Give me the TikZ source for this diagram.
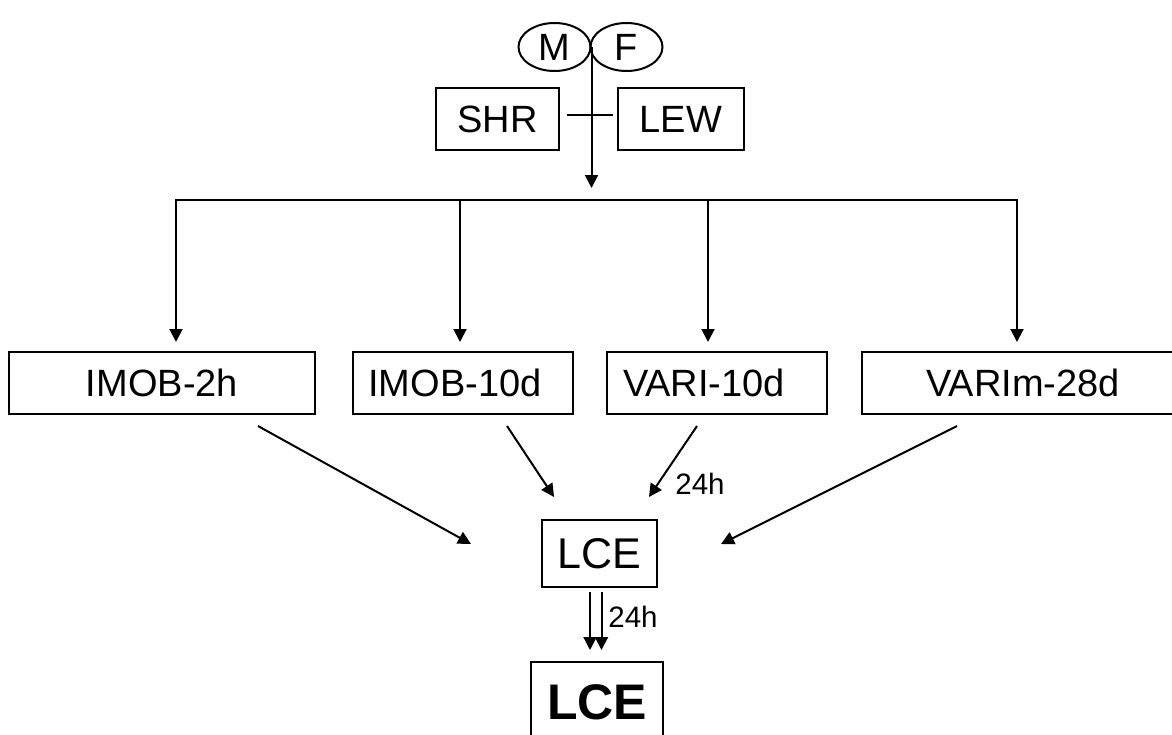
\documentclass[tikz,border=0pt]{standalone}
\usepackage{fontspec}
\setmainfont{Liberation Sans}
\usetikzlibrary{arrows.meta,positioning,shapes.geometric}

\begin{document}
\begin{tikzpicture}[x=1pt, y=-1pt, node distance=36pt,
  box/.style={draw, line width=2pt, inner sep=0pt, minimum height=62pt, font=\fontsize{38}{44}\selectfont},
  oval/.style={draw, ellipse, line width=2pt, inner sep=0pt, minimum width=72pt, minimum height=48pt, font=\fontsize{38}{44}\selectfont},
  arrow/.style={-{Triangle[length=13pt,width=13pt]}, line width=2pt},
  link/.style={line width=2pt, line cap=rect},
  hours/.style={font=\fontsize{29.5}{34}\selectfont, inner sep=0pt}]
\useasboundingbox (0,0) rectangle (1172,734);

\node[oval] (m) at (554.5,47) {M};
\node[oval] (f) at (626.5,47) {F};

\node[box, minimum width=123pt] (shr) at (497.5,119) {SHR};
\node[box, minimum width=126pt, right=57pt of shr] (lew) {LEW};

\node[box, minimum width=306pt] (imob2h) at (162,383) {IMOB-2h};
\node[box, minimum width=220pt] (imob10d) at (463,383) {IMOB-10d\kern16pt};
\node[box, minimum width=220pt] (vari10d) at (717,383) {VARI-10d\kern26pt};
\node[box, minimum width=340pt] (varim28d) at (1032,383) {VARIm-28d\kern18pt};

\node[box, minimum width=115pt, minimum height=67pt, font=\fontsize{43}{50}\selectfont] (lce) at (599.5,553.5) {LCE};
\node[box, minimum width=132pt, minimum height=80pt, font=\bfseries\fontsize{50}{58}\selectfont] (lcefinal) at (597,702) {LCE};

% stem and bus
\coordinate (split) at (590,188);
\coordinate (d1) at (176,200);
\coordinate (d2) at (460,200);
\coordinate (d3) at (708,200);
\coordinate (d4) at (1017,200);

\draw[arrow] (m.east) -- (m.east |- split);
\draw[link, line cap=butt, shorten <=7pt, shorten >=4pt] ([yshift=4pt]shr.east) -- ([yshift=4pt]lew.west);

\draw[link] (d1) -- (d4);
\foreach \d/\b in {d1/imob2h, d2/imob10d, d3/vari10d, d4/varim28d}
  \draw[arrow, shorten >=9pt] (\d) -- (\d |- \b.north);

% into LCE
\coordinate (from2h) at (258,426);
\coordinate (to2h) at (471,544);
\coordinate (from10d) at (507,426);
\coordinate (to10d) at (554,497);
\coordinate (fromvari) at (697,426);
\coordinate (tovari) at (649,497);
\coordinate (fromvarim) at (957,426);
\coordinate (tovarim) at (721,544);

\draw[arrow] (from2h) -- (to2h);
\draw[arrow] (from10d) -- (to10d);
\draw[arrow] (fromvari) -- (tovari);
\draw[arrow] (fromvarim) -- (tovarim);

\node[hours] (lblvari) at (700,484) {24h};

% LCE to LCE
\draw[arrow, shorten <=4pt, shorten >=11pt] ([xshift=-9.5pt]lce.south) -- ([xshift=-9.5pt]lce.south |- lcefinal.north);
\draw[arrow, shorten <=4pt, shorten >=11pt] ([xshift=2pt]lce.south) -- ([xshift=2pt]lce.south |- lcefinal.north);
\node[hours] (lbllce) at (633,617) {24h};
\end{tikzpicture}
\end{document}
